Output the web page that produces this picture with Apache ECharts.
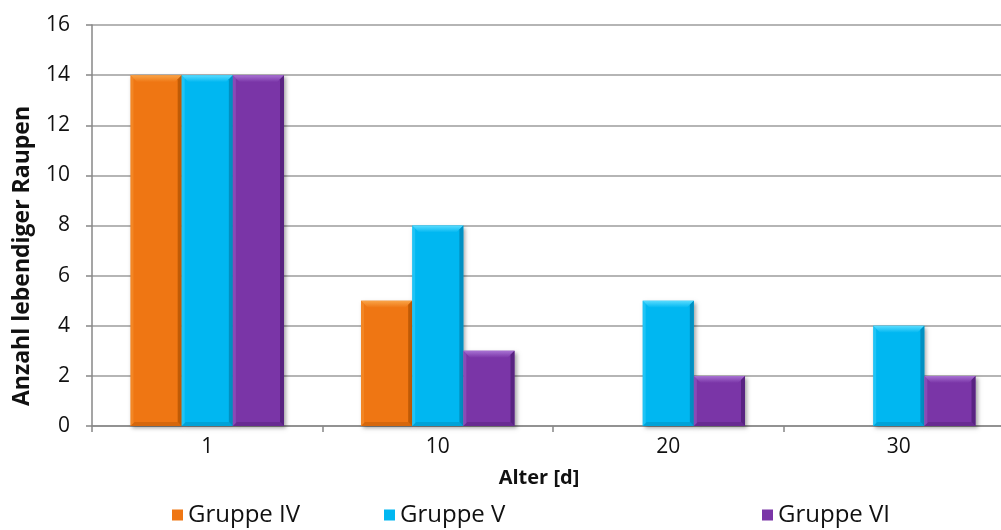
<!DOCTYPE html>
<html>
<head>
<meta charset="utf-8">
<script src="https://cdn.jsdelivr.net/npm/echarts@6/dist/echarts.min.js"></script>
<style>
  html, body { margin: 0; padding: 0; background: #fff; }
  #chart { width: 1001px; height: 530px; }
</style>
</head>
<body>
<div id="chart"></div>
<script>
// Alter der Raupen (Tage) und Anzahl lebender Raupen je Gruppe
const categories = ['1', '10', '20', '30'];
const gruppeIV = [14, 5, 0, 0];
const gruppeV  = [14, 8, 5, 4];
const gruppeVI = [14, 3, 2, 2];
const yTicks = { min: 0, max: 16, interval: 2 };

const FONT = '"Open Sans", "Noto Sans", sans-serif';

// base, light (top bevel), dark (right/bottom edge)
const palette = {
  'Gruppe IV': ['#EF7613', '#F9A549', '#B85705'],
  'Gruppe V':  ['#00B7F1', '#5ADCFF', '#0089BA'],
  'Gruppe VI': ['#7A35A7', '#A872D3', '#52207A']
};

// Beveled bar drawn through the category/value scales
function bevelSeries(name, values, slot) {
  const [base, light, dark] = palette[name];
  return {
    type: 'custom',
    name: name,
    itemStyle: { color: base },
    data: values.map((v, i) => [i, v]),
    encode: { x: 0, y: 1 },
    renderItem: function (params, api) {
      const v = api.value(1);
      if (!v) return null;
      const band = api.size([1, 0])[0];
      const bw = band * 0.222;
      const bottom = api.coord([api.value(0), 0]);
      const top = api.coord([api.value(0), v]);
      const x0 = bottom[0] - 1.5 * bw + slot * bw;
      const x1 = x0 + bw;
      const y0 = top[1];
      const y1 = bottom[1];
      const b = 7;
      return {
        type: 'group',
        children: [
          { type: 'rect', shape: { x: x0, y: y0, width: bw, height: y1 - y0 },
            style: { fill: base, shadowBlur: 4, shadowOffsetX: 2, shadowOffsetY: 2, shadowColor: 'rgba(0,0,0,0.35)' } },
          { type: 'polygon', shape: { points: [[x0, y0], [x1, y0], [x1 - b, y0 + b], [x0 + b, y0 + b]] },
            style: { fill: { type: 'linear', x: 0, y: 0, x2: 0, y2: 1,
              colorStops: [{ offset: 0, color: light }, { offset: 1, color: base }] } } },
          { type: 'polygon', shape: { points: [[x1, y0], [x1, y1], [x1 - 4, y1 - 4], [x1 - 4, y0 + 4]] },
            style: { fill: dark, opacity: 0.85 } },
          { type: 'polygon', shape: { points: [[x0, y1], [x1, y1], [x1 - 4, y1 - 4], [x0 + 4, y1 - 4]] },
            style: { fill: dark, opacity: 0.45 } },
          { type: 'polygon', shape: { points: [[x0, y0], [x0 + 3, y0 + 3], [x0 + 3, y1 - 3], [x0, y1]] },
            style: { fill: light, opacity: 0.35 } }
        ]
      };
    }
  };
}

const legendText = { fontFamily: FONT, fontSize: 24, color: '#111' };
function legendAt(name, left) {
  return {
    data: [name], left: left, top: 503, padding: 0, icon: 'rect',
    itemWidth: 11, itemHeight: 11, itemGap: 0, textStyle: legendText,
    selectedMode: false
  };
}

const chart = echarts.init(document.getElementById('chart'), null, { renderer: 'canvas' });
chart.setOption({
  animation: false,
  backgroundColor: '#fff',
  grid: { left: 92, top: 25, width: 922, height: 401, containLabel: false, outerBoundsMode: 'none' },
  legend: [legendAt('Gruppe IV', 172), legendAt('Gruppe V', 384), legendAt('Gruppe VI', 762)],
  xAxis: {
    type: 'category',
    data: categories,
    boundaryGap: true,
    axisLine: { lineStyle: { color: '#878787', width: 1.5 } },
    axisTick: { show: true, length: 6, lineStyle: { color: '#878787', width: 1.5 } },
    axisLabel: { fontFamily: FONT, fontSize: 21, color: '#111', margin: 11 },
    splitLine: { show: false }
  },
  yAxis: {
    type: 'value',
    min: yTicks.min, max: yTicks.max, interval: yTicks.interval,
    axisLine: { show: true, lineStyle: { color: '#878787', width: 1.5 } },
    axisTick: { show: true, length: 6, lineStyle: { color: '#878787', width: 1.5 } },
    axisLabel: { fontFamily: FONT, fontSize: 21, color: '#111', margin: 22 },
    splitLine: { lineStyle: { color: '#9C9C9C', width: 1.5 } }
  },
  graphic: [
    { type: 'text', x: 539, y: 478,
      style: { text: 'Alter [d]', font: 'bold 20px ' + FONT, fill: '#111', align: 'center', verticalAlign: 'middle' } },
    { type: 'text', x: 22, y: 256, rotation: Math.PI / 2,
      style: { text: 'Anzahl lebendiger Raupen', font: 'bold 23px ' + FONT, fill: '#111', align: 'center', verticalAlign: 'middle' } }
  ],
  series: [
    bevelSeries('Gruppe IV', gruppeIV, 0),
    bevelSeries('Gruppe V', gruppeV, 1),
    bevelSeries('Gruppe VI', gruppeVI, 2)
  ]
});
</script>
</body>
</html>
